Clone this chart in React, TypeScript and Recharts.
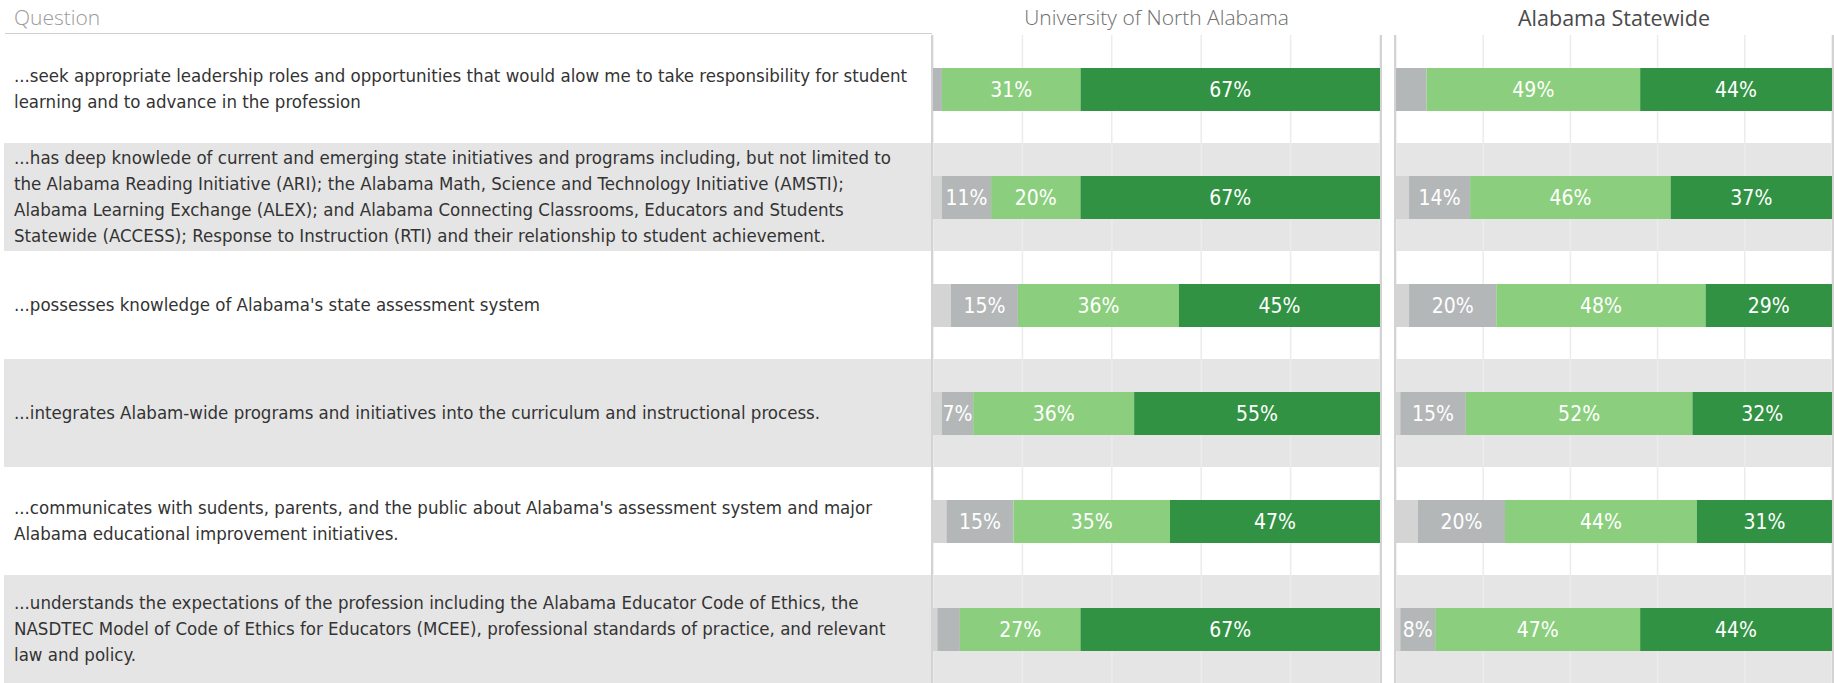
import React from 'react';
import { BarChart, Bar, XAxis, YAxis, CartesianGrid, LabelList } from 'recharts';

const questions = [
  '...seek appropriate leadership roles and opportunities that would alow me to take responsibility for student\nlearning and to advance in the profession',
  '...has deep knowlede of current and emerging state initiatives and programs including, but not limited to\nthe Alabama Reading Initiative (ARI); the Alabama Math, Science and Technology Initiative (AMSTI);\nAlabama Learning Exchange (ALEX); and Alabama Connecting Classrooms, Educators and Students\nStatewide (ACCESS); Response to Instruction (RTI) and their relationship to student achievement.',
  "...possesses knowledge of Alabama's state assessment system",
  '...integrates Alabam-wide programs and initiatives into the curriculum and instructional process.',
  "...communicates with sudents, parents, and the public about Alabama's assessment system and major\nAlabama educational improvement initiatives.",
  '...understands the expectations of the profession including the Alabama Educator Code of Ethics, the\nNASDTEC Model of Code of Ethics for Educators (MCEE), professional standards of practice, and relevant\nlaw and policy.',
];

// percent per answer level, lowest to highest
const unaLow = [0, 2, 4, 2, 3, 1];
const unaMid = [2, 11, 15, 7, 15, 5];
const unaGood = [31, 20, 36, 36, 35, 27];
const unaBest = [67, 67, 45, 55, 47, 67];

const stateLow = [0, 3, 3, 1, 5, 1];
const stateMid = [7, 14, 20, 15, 20, 8];
const stateGood = [49, 46, 48, 52, 44, 47];
const stateBest = [44, 37, 29, 32, 31, 44];

const gridTicks = [0, 20, 40, 60, 80, 100];

const COLORS = ['#d4d4d4', '#b4b7b8', '#8bcf7e', '#329244'];
const KEYS = ['low', 'mid', 'good', 'best'];
const CONDENSED = "'DejaVu Sans Condensed', 'Liberation Sans Narrow', sans-serif";
const HEAD = "'Open Sans', sans-serif";
const ROWS_H = 648;

const unaData = questions.map((q, i) => ({ q, low: unaLow[i], mid: unaMid[i], good: unaGood[i], best: unaBest[i] }));
const stateData = questions.map((q, i) => ({ q, low: stateLow[i], mid: stateMid[i], good: stateGood[i], best: stateBest[i] }));

function bandEdges({ yAxis, offset }: any) {
  const s = yAxis && yAxis.scale;
  if (typeof s === 'function') return questions.map((q) => s(q));
  return questions.map((_, i) => offset.top + (i * offset.height) / questions.length);
}

function PctLabel(props: any) {
  const vb = props.viewBox || {};
  const x = typeof props.x === 'number' ? props.x : vb.x;
  const y = typeof props.y === 'number' ? props.y : vb.y;
  const width = typeof props.width === 'number' ? props.width : vb.width;
  const height = typeof props.height === 'number' ? props.height : vb.height;
  if (!props.value || width < 31) return null;
  return (
    <text
      x={x + width / 2}
      y={y + height / 2}
      fill="#ffffff"
      textAnchor="middle"
      dominantBaseline="central"
      fontSize={21}
      fontFamily={CONDENSED}
    >
      {props.value}%
    </text>
  );
}

function Pane({ data, left, width }: { data: any[]; left: number; width: number }) {
  return (
    <div
      style={{
        position: 'absolute',
        left,
        top: 35,
        height: ROWS_H,
        borderLeft: '2px solid #d3d3d3',
        borderRight: '2px solid #d3d3d3',
      }}
    >
      <BarChart
        width={width}
        height={ROWS_H}
        data={data}
        layout="vertical"
        margin={{ top: 0, right: 0, bottom: 0, left: 0 }}
        barSize={43}
      >
        <CartesianGrid
          stroke="#ececec"
          strokeWidth={1.5}
          horizontalFill={['#ffffff', '#e5e5e5']}
          horizontalCoordinatesGenerator={bandEdges}
          horizontal={(p: any) => <g key={p.key} />}
        />
        <XAxis type="number" domain={[0, 100]} ticks={gridTicks} hide />
        <YAxis type="category" dataKey="q" hide />
        {KEYS.map((k, i) => (
          <Bar key={k} dataKey={k} stackId="a" fill={COLORS[i]} isAnimationActive={false}>
            <LabelList dataKey={k} content={<PctLabel />} />
          </Bar>
        ))}
      </BarChart>
    </div>
  );
}

export default function App() {
  return (
    <div style={{ position: 'relative', width: 1834, height: 683, background: '#fff', overflow: 'hidden' }}>
      <style>{'body{margin:0}'}</style>

      <div style={{ position: 'absolute', left: 14, top: 3, fontFamily: HEAD, fontWeight: 300, fontSize: 21, color: '#9a9a9a' }}>
        Question
      </div>
      <div style={{ position: 'absolute', left: 5, top: 33, width: 927, height: 0, borderTop: '1.5px solid #d0d0d0' }} />
      <div style={{ position: 'absolute', left: 931, width: 451, top: 3, textAlign: 'center', fontFamily: HEAD, fontWeight: 300, fontSize: 21, color: '#6e6e6e' }}>
        University of North Alabama
      </div>
      <div style={{ position: 'absolute', left: 1394, width: 440, top: 3, textAlign: 'center', fontFamily: HEAD, fontWeight: 400, fontSize: 21.5, color: '#4a4a4a' }}>
        Alabama Statewide
      </div>

      <div style={{ position: 'absolute', left: 4, top: 35, width: 927, height: ROWS_H, display: 'flex', flexDirection: 'column' }}>
        {questions.map((q, i) => (
          <div
            key={i}
            style={{
              flex: 1,
              display: 'flex',
              alignItems: 'center',
              paddingLeft: 10,
              background: i % 2 === 1 ? '#e5e5e5' : '#ffffff',
              fontFamily: CONDENSED,
              fontSize: 18.5,
              lineHeight: '26px',
              color: '#333333',
              whiteSpace: 'pre',
              overflow: 'hidden',
            }}
          >
            {q}
          </div>
        ))}
      </div>

      <Pane data={unaData} left={931} width={447} />
      <Pane data={stateData} left={1394} width={436} />
    </div>
  );
}
